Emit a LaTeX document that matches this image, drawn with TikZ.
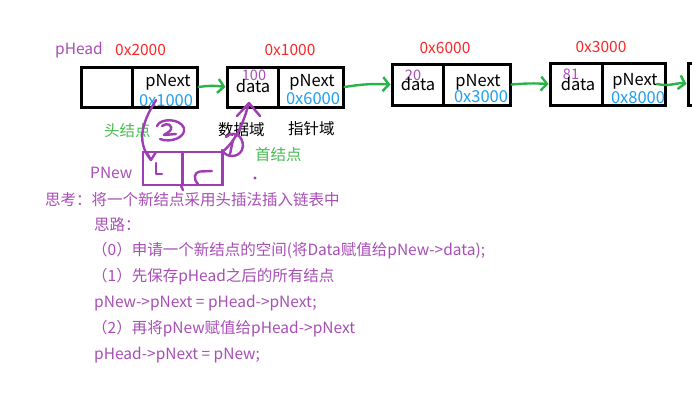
\documentclass[tikz,border=0pt]{standalone}
\usepackage{fontspec}
\setmainfont{Noto Sans CJK SC}
\usetikzlibrary{arrows.meta}
\definecolor{lpurple}{RGB}{168,78,182}
\definecolor{hpurple}{RGB}{160,60,180}
\definecolor{lred}{RGB}{250,40,40}
\definecolor{lblue}{RGB}{30,160,240}
\definecolor{lgreen}{RGB}{40,180,70}
\definecolor{tgreen}{RGB}{70,190,80}
\newcommand\myfs{\fontsize{15.5}{18}\selectfont}
\newcommand\mybx{\fontsize{16.5}{18}\selectfont}
\newcommand\mysm{\fontsize{14.5}{15}\selectfont}
\begin{document}
\begin{tikzpicture}[x=1pt,y=-1pt,
  cell/.style={draw=black, line width=3pt, inner sep=0pt},
  pcell/.style={draw=hpurple, line width=2.6pt, inner sep=0pt, minimum width=39pt, minimum height=33pt},
  lbl/.style={inner sep=0pt, font=\mybx},
  txt/.style={inner sep=0pt, anchor=west, font=\myfs, text=lpurple},
  addr/.style={inner sep=0pt, font=\myfs, text=lred},
  ptr/.style={inner sep=0pt, font=\mybx, text=lblue},
  val/.style={inner sep=0pt, font=\mysm, text=lpurple},
  garrow/.style={draw=lgreen, line width=2.4pt, line cap=round, -{Straight Barb[length=6pt,width=14pt,line width=2.4pt]}},
  pline/.style={draw=hpurple, line width=2.4pt, line cap=round, line join=round}
]
\clip (0,0) rectangle (692,402);
\fill[white] (0,0) rectangle (692,402);

% list nodes
\node[cell, minimum width=51pt, minimum height=40pt] (h0) at (106.5,87) {};
\node[cell, minimum width=65pt, minimum height=40pt] (h1) at (164.5,87) {};
\node[cell, minimum width=51pt, minimum height=40pt] (a0) at (252.5,87) {};
\node[cell, minimum width=65pt, minimum height=40pt] (a1) at (310.5,87) {};
\node[cell, minimum width=51pt, minimum height=41pt] (b0) at (417.5,84.5) {};
\node[cell, minimum width=67pt, minimum height=41pt] (b1) at (476.5,84.5) {};
\node[cell, minimum width=52pt, minimum height=42pt] (c0) at (576,84) {};
\node[cell, minimum width=63pt, minimum height=42pt] (c1) at (633.5,84) {};
\node[cell, minimum width=52pt, minimum height=42pt] (d0) at (714,84) {};

% cell texts
\node[lbl] (h1t) at (168,82) {pNext};
\node[ptr] (h1p) at (166,101) {0x1000};
\node[val] (a0v) at (254,75) {100};
\node[lbl] (a0t) at (253,86) {data};
\node[lbl] (a1t) at (312,82) {pNext};
\node[ptr] (a1p) at (313,99) {0x6000};
\node[val] (b0v) at (413,75) {20};
\node[lbl] (b0t) at (418,84) {data};
\node[lbl] (b1t) at (478,82) {pNext};
\node[ptr] (b1p) at (481,97) {0x3000};
\node[val] (c0v) at (571,74) {81};
\node[lbl] (c0t) at (578,84) {data};
\node[lbl] (c1t) at (635,81) {pNext};
\node[ptr] (c1p) at (638,98) {0x8000};

% addresses above
\node[txt, text=lpurple] (phead) at (55,50) {pHead};
\node[addr, anchor=west] (ad0) at (115,50) {0x2000};
\node[addr] (ad1) at (290,50) {0x1000};
\node[addr] (ad2) at (445,48) {0x6000};
\node[addr] (ad3) at (601,47) {0x3000};

% green arrows
\draw[garrow] (h1.east) to[bend left=8] (a0.west);
\draw[garrow] (a1.east) to[bend left=6] (b0.west);
\draw[garrow] (b1.east) to[bend left=4] (c0.west);
\coordinate (c1s) at (657,84);
\draw[garrow] (c1s) .. controls (670,87) and (678,82) .. (d0.west);

% labels under nodes
\node[txt, text=tgreen] (head) at (104,131) {头结点};
\node[txt, text=black] (dfield) at (218,130) {数据域};
\node[txt, text=black] (pfield) at (288,129) {指针域};
\node[txt, text=tgreen] (first) at (255,155) {首结点};
\node[txt] (pnew) at (90,173) {PNew};

% hand-drawn new node
\node[pcell] (p0) at (162.5,168.5) {};
\node[pcell, minimum width=40pt] (p1) at (202.5,168.5) {};
\coordinate (pdiv) at (183,190);
\draw[pline] (p1.south west) -- (pdiv);
\draw[pline] (156,163) -- (156,174) -- (162,174);
\draw[pline] (198,184) .. controls (193,179) and (194,172) .. (200,171.5) -- (212,171);

% step 2: pHead->pNext = pNew
\coordinate (s2a) at (156,100);
\coordinate (s2b) at (151,160);
\draw[pline] (s2a) .. controls (145,118) and (134,140) .. (s2b);
\draw[pline] (147,153) -- (151,160) -- (156,152);
\draw[pline] (157,126) .. controls (160,118) and (180,118) .. (184,128) .. controls (186,138) and (170,143) .. (160,139);
\draw[pline] (162,126) .. controls (167,122) and (174,125) .. (170,131) -- (164,135) -- (176,134);

% step 1: pNew->pNext = pHead->pNext
\coordinate (s1a) at (p1.north east);
\coordinate (s1b) at (249,103);
\draw[pline] (s1a) .. controls (238,138) and (244,120) .. (s1b);
\draw[pline] (237,116) -- (s1b) -- (260,116);
\draw[pline] (226,137) .. controls (236,128) and (246,140) .. (242,150) .. controls (238,158) and (226,158) .. (222,150);
\draw[pline] (233,140) -- (230,154);
\fill[hpurple] (255,178) circle (1.6);

% text block
\node[txt] (t0) at (45,200) {思考：将一个新结点采用头插法插入链表中};
\node[txt] (t1) at (94,225) {思路：};
\node[txt] (t2) at (92,251) {（0）申请一个新结点的空间(将Data赋值给pNew->data);};
\node[txt] (t3) at (92,277) {（1）先保存pHead之后的所有结点};
\node[txt] (t4) at (94,303) {pNew->pNext = pHead->pNext;};
\node[txt] (t5) at (92,329) {（2）再将pNew赋值给pHead->pNext};
\node[txt] (t6) at (94,355) {pHead->pNext = pNew;};
\end{tikzpicture}
\end{document}
